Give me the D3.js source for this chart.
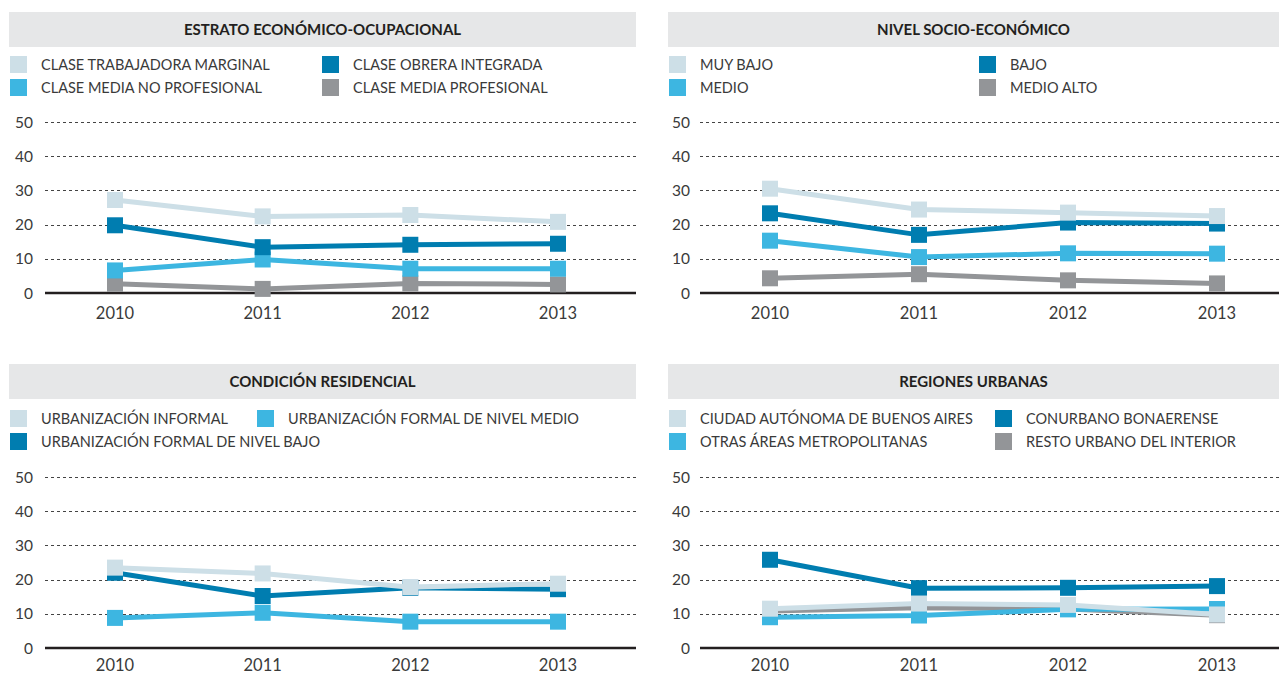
<!DOCTYPE html>
<html>
<head>
<meta charset="utf-8">
<script src="https://d3js.org/d3.v7.min.js"></script>
<style>
  body { margin: 0; background: #fff; }
  text { font-family: Lato, "Open Sans", sans-serif; fill: #231f20; }
</style>
</head>
<body>
<div id="chart"></div>
<script>
var years = ["2010", "2011", "2012", "2013"];
var yTicks = [0, 10, 20, 30, 40, 50];

// estrato economico-ocupacional
var estratoTitle = "ESTRATO ECONÓMICO-OCUPACIONAL";
var estratoNames = ["CLASE TRABAJADORA MARGINAL", "CLASE OBRERA INTEGRADA", "CLASE MEDIA NO PROFESIONAL", "CLASE MEDIA PROFESIONAL"];
var estratoMarginal = [27.2, 22.4, 22.8, 20.8];
var estratoObrera = [19.8, 13.4, 14.1, 14.4];
var estratoMediaNoProf = [6.6, 9.8, 7.1, 7.1];
var estratoMediaProf = [2.7, 1.2, 2.8, 2.5];

// nivel socio-economico
var nivelTitle = "NIVEL SOCIO-ECONÓMICO";
var nivelNames = ["MUY BAJO", "BAJO", "MEDIO", "MEDIO ALTO"];
var nivelMuyBajo = [30.5, 24.4, 23.5, 22.5];
var nivelBajo = [23.3, 17.0, 20.6, 20.3];
var nivelMedio = [15.3, 10.5, 11.6, 11.5];
var nivelMedioAlto = [4.3, 5.5, 3.7, 2.8];

// condicion residencial
var condTitle = "CONDICIÓN RESIDENCIAL";
var condNames = ["URBANIZACIÓN INFORMAL", "URBANIZACIÓN FORMAL DE NIVEL MEDIO", "URBANIZACIÓN FORMAL DE NIVEL BAJO"];
var condInformal = [23.5, 21.8, 17.8, 18.8];
var condFormalMedio = [8.8, 10.3, 7.7, 7.7];
var condFormalBajo = [22.0, 15.2, 17.6, 17.2];

// regiones urbanas
var regTitle = "REGIONES URBANAS";
var regNames = ["CIUDAD AUTÓNOMA DE BUENOS AIRES", "CONURBANO BONAERENSE", "OTRAS ÁREAS METROPOLITANAS", "RESTO URBANO DEL INTERIOR"];
var regCaba = [11.5, 13.0, 12.6, 9.8];
var regConurbano = [25.8, 17.5, 17.6, 18.1];
var regOtras = [9.0, 9.5, 11.3, 11.4];
var regResto = [10.8, 11.8, 11.4, 9.6];

var cLight = "#cddfe7", cDark = "#007db0", cMid = "#3db6e1", cGray = "#939598";

var W = 1279, H = 675;
var svg = d3.select("#chart").append("svg").attr("width", W).attr("height", H);

// layout per panel; series carry legend slot [col,row]
var panels = [
  { title: estratoTitle, x0: 9, x1: 636, top: 12, legendY: 56, y0: 293, y50: 122,
    xr: [115, 558], labelX: 33, gridX: 45, legendCols: [10, 322],
    series: [
      { name: estratoNames[0], values: estratoMarginal, color: cLight, col: 0, row: 0 },
      { name: estratoNames[1], values: estratoObrera, color: cDark, col: 1, row: 0 },
      { name: estratoNames[2], values: estratoMediaNoProf, color: cMid, col: 0, row: 1 },
      { name: estratoNames[3], values: estratoMediaProf, color: cGray, col: 1, row: 1 }
    ] },
  { title: nivelTitle, x0: 668, x1: 1279, top: 12, legendY: 56, y0: 293, y50: 122,
    xr: [770, 1217], labelX: 690, gridX: 700, legendCols: [669, 979],
    series: [
      { name: nivelNames[0], values: nivelMuyBajo, color: cLight, col: 0, row: 0 },
      { name: nivelNames[1], values: nivelBajo, color: cDark, col: 1, row: 0 },
      { name: nivelNames[2], values: nivelMedio, color: cMid, col: 0, row: 1 },
      { name: nivelNames[3], values: nivelMedioAlto, color: cGray, col: 1, row: 1 }
    ] },
  { title: condTitle, x0: 9, x1: 636, top: 364, legendY: 410, y0: 648, y50: 477,
    xr: [115, 558], labelX: 33, gridX: 45, legendCols: [10, 257],
    series: [
      { name: condNames[0], values: condInformal, color: cLight, col: 0, row: 0 },
      { name: condNames[1], values: condFormalMedio, color: cMid, col: 1, row: 0 },
      { name: condNames[2], values: condFormalBajo, color: cDark, col: 0, row: 1 }
    ] },
  { title: regTitle, x0: 668, x1: 1279, top: 364, legendY: 410, y0: 648, y50: 477,
    xr: [770, 1217], labelX: 690, gridX: 700, legendCols: [669, 995],
    series: [
      { name: regNames[0], values: regCaba, color: cLight, col: 0, row: 0 },
      { name: regNames[1], values: regConurbano, color: cDark, col: 1, row: 0 },
      { name: regNames[2], values: regOtras, color: cMid, col: 0, row: 1 },
      { name: regNames[3], values: regResto, color: cGray, col: 1, row: 1 }
    ] }
];

// draw order: gray, mid, dark, light (light on top)
var drawRank = {};
drawRank[cGray] = 0; drawRank[cMid] = 1; drawRank[cDark] = 2; drawRank[cLight] = 3;

panels.forEach(function(p) {
  var g = svg.append("g");

  // title band
  g.append("rect")
    .attr("x", p.x0).attr("y", p.top)
    .attr("width", p.x1 - p.x0).attr("height", 35)
    .attr("fill", "#e6e7e8");
  g.append("text")
    .attr("x", (p.x0 + p.x1) / 2).attr("y", p.top + 23)
    .attr("text-anchor", "middle")
    .style("font-weight", "bold").style("font-size", "15px")
    .text(p.title);

  // legend
  p.series.forEach(function(s) {
    var lx = p.legendCols[s.col];
    var ly = p.legendY + s.row * 23;
    g.append("rect").attr("x", lx).attr("y", ly)
      .attr("width", 17).attr("height", 17).attr("fill", s.color);
    g.append("text").attr("x", lx + 31).attr("y", ly + 14)
      .style("font-size", "14.5px").style("fill", "#3a3a3a")
      .text(s.name);
  });

  var y = d3.scaleLinear().domain([0, 50]).range([p.y0, p.y50]);
  var x = d3.scalePoint().domain(years).range(p.xr);

  // grid
  g.selectAll(".grid").data(yTicks.filter(function(t) { return t > 0; }))
    .enter().append("line")
    .attr("x1", p.gridX).attr("x2", p.x1)
    .attr("y1", function(d) { return Math.round(y(d)) + 0.5; })
    .attr("y2", function(d) { return Math.round(y(d)) + 0.5; })
    .attr("stroke", "#444").attr("stroke-width", 1)
    .attr("stroke-dasharray", "3,3");

  // y labels
  g.selectAll(".ylab").data(yTicks).enter().append("text")
    .attr("x", p.labelX).attr("y", function(d) { return y(d) + 5.5; })
    .attr("text-anchor", "end")
    .style("font-size", "15.5px").style("fill", "#3a3a3a")
    .text(function(d) { return d; });

  // baseline
  g.append("line")
    .attr("x1", p.gridX).attr("x2", p.x1)
    .attr("y1", y(0)).attr("y2", y(0))
    .attr("stroke", "#231f20").attr("stroke-width", 2.5);

  // x labels (kept inside the page at the bottom edge)
  g.selectAll(".xlab").data(years).enter().append("text")
    .attr("x", function(d) { return x(d); })
    .attr("y", Math.min(y(0) + 26, H - 4))
    .attr("text-anchor", "middle")
    .style("font-size", "16.5px").style("fill", "#3a3a3a")
    .text(function(d) { return d; });

  var line = d3.line()
    .x(function(d, i) { return x(years[i]); })
    .y(function(d) { return y(d); });

  var ordered = p.series.slice().sort(function(a, b) { return drawRank[a.color] - drawRank[b.color]; });
  ordered.forEach(function(s) {
    var sg = g.append("g");
    sg.append("path").datum(s.values)
      .attr("d", line)
      .attr("fill", "none")
      .attr("stroke", s.color)
      .attr("stroke-width", 5);
    sg.selectAll("rect").data(s.values).enter().append("rect")
      .attr("x", function(d, i) { return x(years[i]) - 8; })
      .attr("y", function(d) { return y(d) - 8; })
      .attr("width", 16).attr("height", 16)
      .attr("fill", s.color);
  });
});
</script>
</body>
</html>
